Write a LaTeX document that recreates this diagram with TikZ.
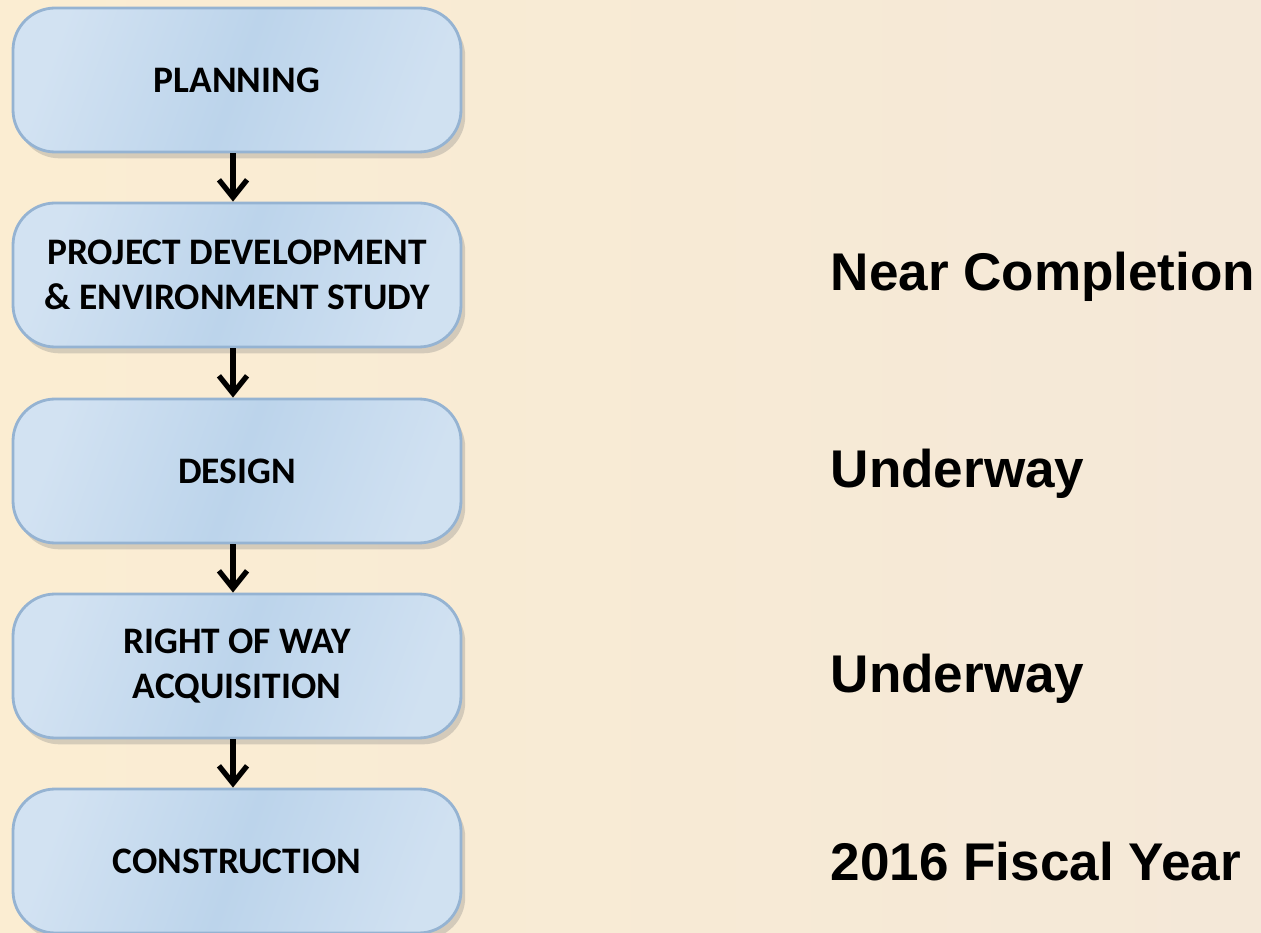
\documentclass[tikz,border=0pt]{standalone}
\usepackage{fontspec}
\usepackage{xcolor}
\usepackage{tikz}
\usetikzlibrary{arrows.meta, positioning, shadows}
\setmainfont{Carlito}
\newfontfamily\labelfont{Liberation Sans}
\definecolor{stagebg}{HTML}{FBEDD2}
\definecolor{stagebgright}{HTML}{F4E8D8}
\definecolor{stagelight}{HTML}{D2E2F2}
\definecolor{stagemid}{HTML}{BCD4EB}
\definecolor{stageedge}{HTML}{95B3D2}

\tikzset{
    stagebox/.style={draw=stageedge, line width=0.8pt, rounded corners=12pt,
        left color=stagelight, right color=stagelight!90!stagemid, middle color=stagemid,
        shading angle=70, minimum width=4.48cm, minimum height=1.44cm,
        align=center, font=\fontsize{10.65}{12.6}\selectfont\bfseries,
        drop shadow={opacity=0.3, shadow xshift=1.2pt, shadow yshift=-1.8pt}},
    statuslabel/.style={anchor=base west, inner sep=0pt,
        font=\labelfont\fontsize{15.1}{18}\selectfont\bfseries},
    flowarrow/.style={line width=1.5pt, -{Straight Barb[length=5pt, width=8pt, line width=1.5pt]}}
}

\begin{document}
\begin{tikzpicture}
    % Background
    \fill[left color=stagebg, right color=stagebgright] (0, 0) rectangle (12.61, -9.33);
    \useasboundingbox (0, 0) rectangle (12.61, -9.33);

    % Stages
    \node[stagebox] (planning) at (2.37, -0.80) {PLANNING};
    \node[stagebox] (pdes) at (2.37, -2.75) {PROJECT DEVELOPMENT\\\& ENVIRONMENT STUDY};
    \node[stagebox] (design) at (2.37, -4.71) {DESIGN};
    \node[stagebox] (row) at (2.37, -6.66) {RIGHT OF WAY\\ACQUISITION};
    \node[stagebox] (construction) at (2.37, -8.61) {CONSTRUCTION};

    % Flow
    \draw[flowarrow] ([xshift=-0.4mm]planning.south) -- ([xshift=-0.4mm]pdes.north);
    \draw[flowarrow] ([xshift=-0.4mm]pdes.south) -- ([xshift=-0.4mm]design.north);
    \draw[flowarrow] ([xshift=-0.4mm]design.south) -- ([xshift=-0.4mm]row.north);
    \draw[flowarrow] ([xshift=-0.4mm]row.south) -- ([xshift=-0.4mm]construction.north);

    % Status
    \node[statuslabel] (pdesstatus) at (8.30, -2.91) {Near Completion};
    \node[statuslabel] (designstatus) at (8.30, -4.88) {Underway};
    \node[statuslabel] (rowstatus) at (8.30, -6.93) {Underway};
    \node[statuslabel] (constructionstatus) at (8.30, -8.80) {2016 Fiscal Year};
\end{tikzpicture}
\end{document}
